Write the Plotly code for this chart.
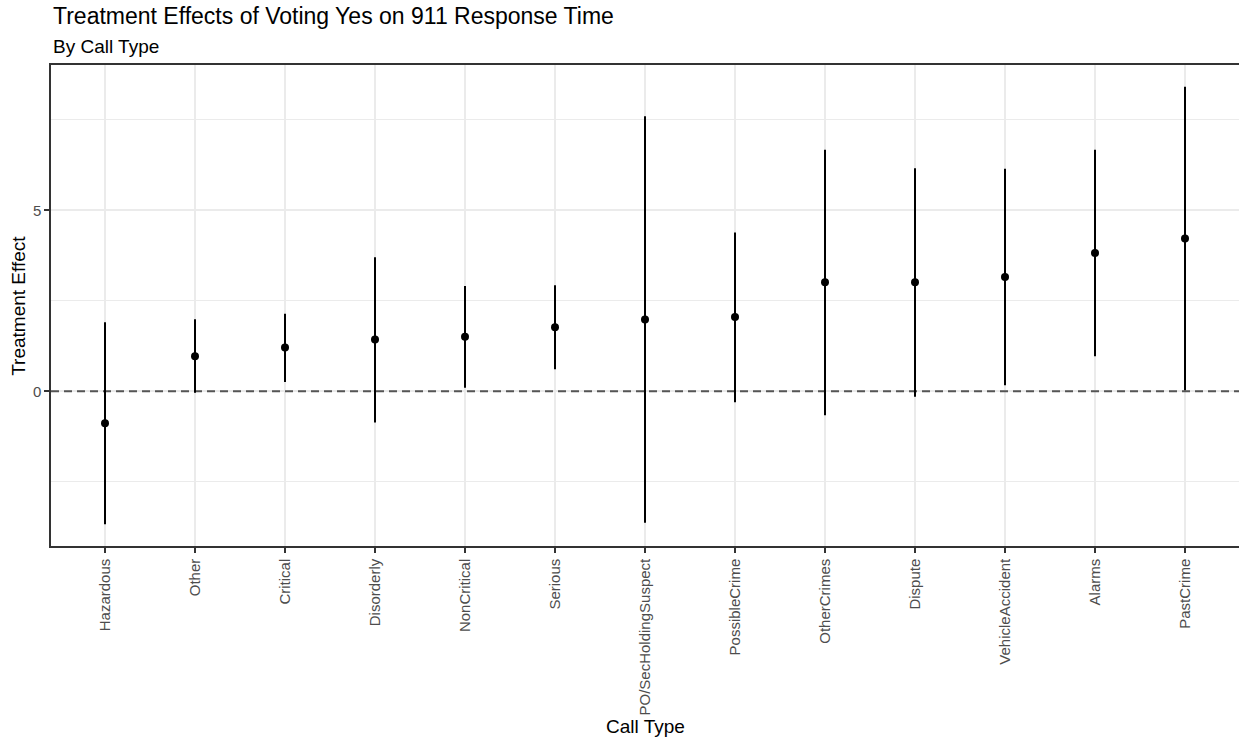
import plotly.graph_objects as go

# Estimated treatment effects with confidence intervals, by 911 call type
call_types = [
    "Hazardous", "Other", "Critical", "Disorderly", "NonCritical", "Serious",
    "PO/SecHoldingSuspect", "PossibleCrime", "OtherCrimes", "Dispute",
    "VehicleAccident", "Alarms", "PastCrime",
]
estimate = [-0.88, 0.97, 1.21, 1.43, 1.51, 1.77, 1.98, 2.05, 3.01, 3.01, 3.16, 3.82, 4.22]
ci_lower = [-3.67, -0.04, 0.26, -0.86, 0.10, 0.61, -3.63, -0.30, -0.66, -0.15, 0.17, 0.97, 0.03]
ci_upper = [1.91, 1.99, 2.14, 3.70, 2.91, 2.93, 7.60, 4.39, 6.67, 6.16, 6.15, 6.67, 8.41]

y_ticks = [0, 5]
y_minor = [-2.5, 2.5, 7.5]

FONT = "Liberation Sans, Arial, sans-serif"
GRID = "#EBEBEB"
AXIS = "#333333"

positions = list(range(len(call_types)))
err_plus = [u - e for u, e in zip(ci_upper, estimate)]
err_minus = [e - l for e, l in zip(estimate, ci_lower)]

# discrete x range padded by 0.6 of a slot; y range padded by 5% of the span
x_range = [-0.6, len(call_types) - 1 + 0.6]
lo, hi = min(ci_lower), max(ci_upper)
pad = 0.05 * (hi - lo)
y_range = [lo - pad, hi + pad]

fig = go.Figure()

# dashed reference line at zero effect, drawn beneath the intervals
fig.add_trace(go.Scatter(
    x=x_range, y=[0, 0], mode="lines",
    line=dict(color="#555555", width=2, dash="8px,5px"),
    showlegend=False, hoverinfo="skip",
))

fig.add_trace(go.Scatter(
    x=positions,
    y=estimate,
    mode="markers",
    marker=dict(color="black", size=8),
    error_y=dict(type="data", symmetric=False, array=err_plus, arrayminus=err_minus,
                 color="black", thickness=2, width=0),
    customdata=call_types,
    hovertemplate="%{customdata}: %{y}<extra></extra>",
    showlegend=False,
))

fig.update_layout(
    width=1239, height=740,
    margin=dict(l=51, r=0, t=65, b=194),
    paper_bgcolor="white", plot_bgcolor="white",
    font=dict(family=FONT, color="black"),
    xaxis=dict(
        range=x_range,
        tickmode="array", tickvals=positions, ticktext=call_types,
        showgrid=True, gridcolor=GRID, gridwidth=1.5,
        showline=True, linecolor=AXIS, linewidth=1.5, mirror=True,
        ticks="outside", ticklen=5, tickcolor=AXIS, tickwidth=1.5,
        tickangle=-90,
        tickfont=dict(family=FONT, size=15, color="#4D4D4D"),
        zeroline=False,
    ),
    yaxis=dict(
        range=y_range,
        tickmode="array", tickvals=y_ticks,
        showgrid=True, gridcolor=GRID, gridwidth=1.5,
        minor=dict(tickvals=y_minor, showgrid=True, gridcolor=GRID, gridwidth=1, ticks=""),
        showline=True, linecolor=AXIS, linewidth=1.5, mirror=False,
        ticks="outside", ticklen=5, tickcolor=AXIS, tickwidth=1.5,
        tickfont=dict(family=FONT, size=15, color="#4D4D4D"),
        zeroline=False,
    ),
    annotations=[
        dict(text="Treatment Effects of Voting Yes on 911 Response Time",
             xref="paper", yref="paper", x=0, y=1.1019, xanchor="left", yanchor="middle",
             showarrow=False, font=dict(family=FONT, size=23, color="black")),
        dict(text="By Call Type",
             xref="paper", yref="paper", x=0, y=1.0395, xanchor="left", yanchor="middle",
             showarrow=False, font=dict(family=FONT, size=19, color="black")),
        dict(text="Call Type",
             xref="paper", yref="paper", x=0.5, y=-0.375, xanchor="center", yanchor="middle",
             showarrow=False, font=dict(family=FONT, size=19, color="black")),
        dict(text="Treatment Effect", textangle=-90,
             xref="paper", yref="paper", x=-0.0275, y=0.5, xanchor="center", yanchor="middle",
             showarrow=False, font=dict(family=FONT, size=19, color="black")),
    ],
)

fig.write_html("out.html")
